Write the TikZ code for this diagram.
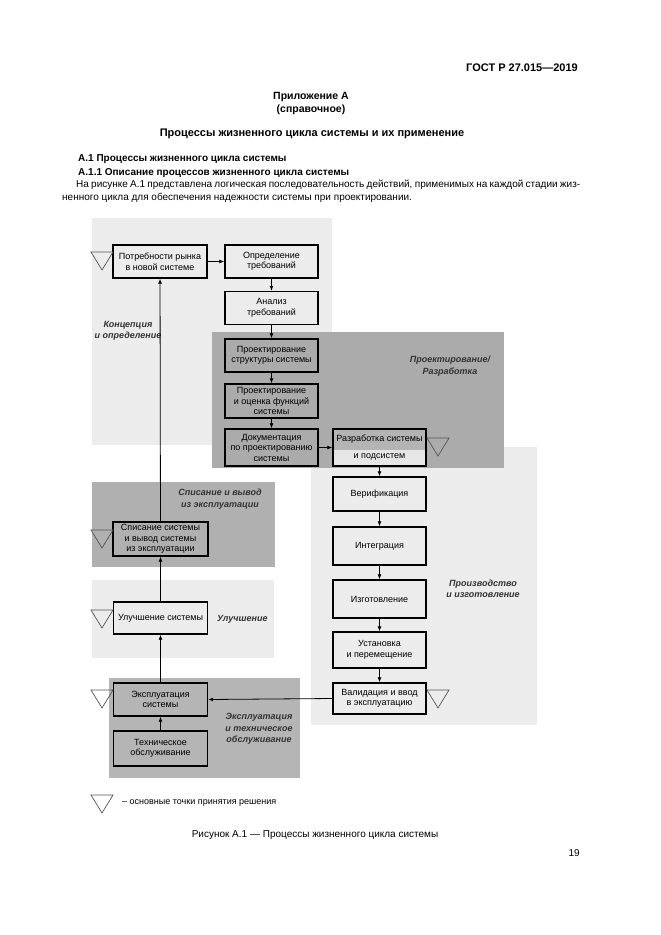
\documentclass[tikz,border=0pt]{standalone}
\usepackage{fontspec}
\setmainfont{Liberation Sans}
\usetikzlibrary{arrows.meta}
\definecolor{lightR}{HTML}{ECECEC}
\definecolor{darkR}{HTML}{ABABAB}
\definecolor{spisR}{HTML}{B0B0B0}
\definecolor{explR}{HTML}{B5B5B5}
\definecolor{razTop}{HTML}{B4B4B4}
\definecolor{razBot}{HTML}{E6E6E6}
\definecolor{labC}{HTML}{333333}
\definecolor{triC}{HTML}{555555}
\begin{document}
\begin{tikzpicture}[x=1pt,y=-1pt,
  pbox/.style={draw=black, line width=1.4pt, inner sep=0pt, align=center,
    font=\fontsize{9}{10.5}\selectfont},
  conn/.style={line width=0.8pt, -{Latex[length=5pt,width=4pt]}},
  stlabel/.style={font=\fontsize{9}{11.5}\selectfont\bfseries\itshape, text=labC, inner sep=0pt},
  tri/.style={draw=triC, line width=0.7pt},
  dtri/.pic={\draw[tri] (0,0) -- (22,0) -- (11,18) -- cycle;},
  hdr/.style={inner sep=0pt}
]
\useasboundingbox (0,0) rectangle (661,935);
\fill[white] (0,0) rectangle (661,935);

% ---- page header text ----
\node[hdr, anchor=east, font=\fontsize{11}{13}\selectfont\bfseries] (gost) at (578,68) {ГОСТ Р 27.015—2019};
\node[hdr, font=\fontsize{10.5}{12}\selectfont\bfseries] (app1) at (311,97) {Приложение А};
\node[hdr, font=\fontsize{10.5}{12}\selectfont\bfseries] (app2) at (311,110) {(справочное)};
\node[hdr, font=\fontsize{11}{14}\selectfont\bfseries] (title) at (312,134) {Процессы жизненного цикла системы и их применение};
\node[hdr, anchor=west, font=\fontsize{10}{12}\selectfont\bfseries] (h1) at (78,159) {А.1 Процессы жизненного цикла системы};
\node[hdr, anchor=west, font=\fontsize{10}{12}\selectfont\bfseries] (h2) at (78,173) {А.1.1 Описание процессов жизненного цикла системы};
\node[hdr, anchor=north west, text width=518pt, align=justify, font=\fontsize{10}{12.5}\selectfont] (body) at (62,180)
  {\hspace*{14pt}На рисунке А.1 представлена логическая последовательность действий, применимых на каждой стадии жиз-\linebreak ненного цикла для обеспечения надежности системы при проектировании.};

% ---- stage regions ----
\fill[lightR] (92,218) rectangle (332,445);
\fill[lightR] (311,447) rectangle (537,725);
\fill[darkR] (212,332) rectangle (504,468);
\fill[spisR] (92,482) rectangle (275,567);
\fill[lightR] (92,580) rectangle (274,658);
\fill[explR] (109,678) rectangle (300,778);
\fill[razTop] (333,429) rectangle (426,450);
\fill[razBot] (333,450) rectangle (426,466);

% ---- stage labels ----
\node[stlabel, align=center] (lconc) at (128,331) {Концепция\\и определение};
\node[stlabel, align=center] (ldes) at (450,366) {Проектирование/\\Разработка};
\node[stlabel, align=center] (lspis) at (220,499) {Списание и вывод\\из эксплуатации};
\node[stlabel, anchor=west] (lulu) at (217,619) {Улучшение};
\node[stlabel, align=center] (lprod) at (483,589) {Производство\\и изготовление};
\node[stlabel, align=center] (lexpl) at (259,729) {Эксплуатация\\и техническое\\обслуживание};

% ---- process boxes ----
\node[pbox, minimum width=94pt, minimum height=33pt] (pot) at (160,261.5) {Потребности рынка\\в новой системе};
\node[pbox, minimum width=93pt, minimum height=33pt] (opr) at (271.5,261.5) {Определение\\требований};
\node[pbox, minimum width=93pt, minimum height=33pt] (anal) at (271.5,308) {Анализ\\требований};
\node[pbox, minimum width=93pt, minimum height=33pt] (pstr) at (271.5,355.5) {Проектирование\\структуры системы};
\node[pbox, minimum width=93pt, minimum height=34pt] (pfun) at (271.5,401) {Проектирование\\и оценка функций\\системы};
\node[pbox, minimum width=93pt, minimum height=37pt] (doc) at (271.5,447.5) {Документация\\по проектированию\\системы};
\node[pbox, minimum width=93pt, minimum height=37pt] (razr) at (379.5,447.5) {Разработка системы\\[7pt]и подсистем};
\node[pbox, minimum width=93pt, minimum height=34pt] (ver) at (379.5,494) {Верификация};
\node[pbox, minimum width=93pt, minimum height=38pt] (integ) at (379.5,546) {Интеграция};
\node[pbox, minimum width=93pt, minimum height=38pt] (izg) at (379.5,599) {Изготовление};
\node[pbox, minimum width=93pt, minimum height=36pt] (ust) at (379.5,650) {Установка\\и перемещение};
\node[pbox, minimum width=93pt, minimum height=31pt] (val) at (379.5,698.5) {Валидация и ввод\\в эксплуатацию};
\node[pbox, minimum width=95pt, minimum height=34pt] (spis) at (160.5,539) {Списание системы\\и вывод системы\\из эксплуатации};
\node[pbox, minimum width=94pt, minimum height=32pt] (ulu) at (160.5,618) {Улучшение системы};
\node[pbox, minimum width=94pt, minimum height=33pt] (expl) at (160.5,699.5) {Эксплуатация\\системы};
\node[pbox, minimum width=94pt, minimum height=35pt] (teh) at (160.5,748.5) {Техническое\\обслуживание};

% ---- connectors ----
\draw[conn] (pot) -- (opr);
\draw[conn] (opr) -- (anal);
\draw[conn] (anal) -- (pstr);
\draw[conn] (pstr) -- (pfun);
\draw[conn] (pfun) -- (doc);
\draw[conn] (doc) -- (razr);
\draw[conn] (razr) -- (ver);
\draw[conn] (ver) -- (integ);
\draw[conn] (integ) -- (izg);
\draw[conn] (izg) -- (ust);
\draw[conn] (ust) -- (val);
\draw[conn] (val.west) -- (expl.east);
\draw[conn] (teh) -- (expl);
\draw[conn] (expl) -- (ulu);
\draw[conn] (ulu) -- (spis);
\draw[conn] (spis) -- (pot);

% ---- decision points ----
\pic at (91,252) {dtri};
\pic at (91,530) {dtri};
\pic at (91,610) {dtri};
\pic at (91,690) {dtri};
\pic at (427,438) {dtri};
\pic at (427,690) {dtri};
\pic at (91,795) {dtri};
\node[hdr, anchor=west, font=\fontsize{9}{10}\selectfont] (legend) at (122,803) {– основные точки принятия решения};

% ---- caption ----
\node[hdr, font=\fontsize{10}{11}\selectfont] (cap) at (315,835) {Рисунок А.1 — Процессы жизненного цикла системы};
\node[hdr, anchor=east, font=\fontsize{10}{12}\selectfont] (pnum) at (580,853) {19};
\end{tikzpicture}
\end{document}
